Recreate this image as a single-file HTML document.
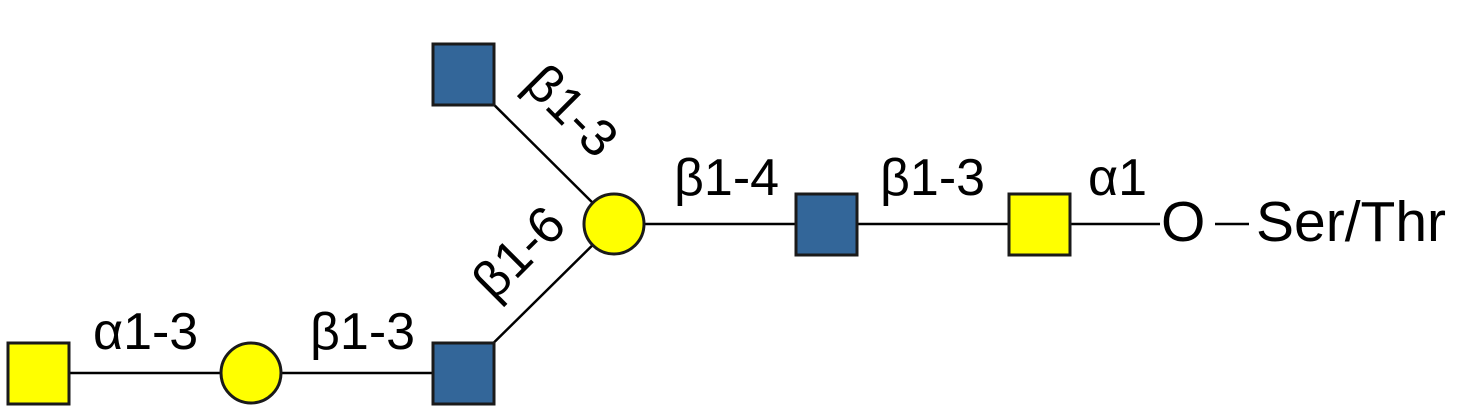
<!DOCTYPE html>
<html><head><style>html,body{margin:0;padding:0;background:#fff;}svg{display:block}</style></head>
<body>
<svg width="1460" height="416" viewBox="0 0 1460 416" xmlns="http://www.w3.org/2000/svg" font-family="Liberation Sans, Arial, sans-serif" font-size="52" fill="#000">
<g stroke="#000" stroke-width="2.5">
<line x1="463" y1="74" x2="614" y2="224"/>
<line x1="463" y1="373" x2="614" y2="224"/>
<line x1="614" y1="224" x2="1160" y2="224"/>
<line x1="38" y1="373" x2="463" y2="373"/>
<line x1="1215" y1="224" x2="1249" y2="224"/>
</g>
<g stroke="#1a1a1a" stroke-width="3">
<rect x="433" y="44" width="61" height="61" fill="#336699"/>
<rect x="796" y="194" width="61" height="61" fill="#336699"/>
<rect x="1009" y="194" width="61" height="61" fill="#ffff00"/>
<rect x="8" y="343" width="61" height="61" fill="#ffff00"/>
<rect x="433" y="343" width="61" height="61" fill="#336699"/>
<circle cx="614" cy="224" r="30" fill="#ffff00"/>
<circle cx="251" cy="373" r="30" fill="#ffff00"/>
</g>
<g stroke="none">
<text x="674" y="195">β1-4</text>
<text x="880" y="195">β1-3</text>
<text x="1088" y="195">α1</text>
<text x="1161" y="241" font-size="57">O</text>
<text x="1256" y="241" font-size="57">Ser/Thr</text>
<text x="93" y="349">α1-3</text>
<text x="310" y="349">β1-3</text>
<text transform="translate(522,86) rotate(45)">β1-3</text>
<text transform="translate(494,302) rotate(-45)">β1-6</text>
</g>
</svg>
</body></html>
